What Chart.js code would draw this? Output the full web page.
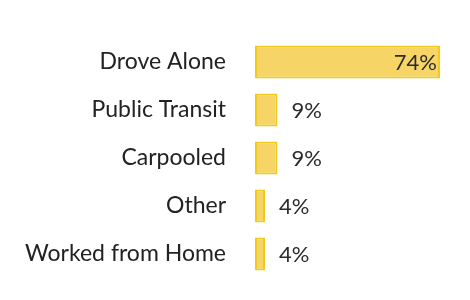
<!DOCTYPE html>
<html lang="en">
<head>
    <meta charset="UTF-8">
    <title>Commute Mode</title>
    <script src="https://cdn.jsdelivr.net/npm/chart.js"></script>
    <style>
        html, body { margin: 0; padding: 0; background: #fff; }
        #wrap { width: 470px; height: 300px; }
    </style>
</head>
<body>
    <div id="wrap"><canvas id="modeChart" width="470" height="300"></canvas></div>
    <script>
        // data
        const modes = ['Drove Alone', 'Public Transit', 'Carpooled', 'Other', 'Worked from Home'];
        const shares = [74, 9, 9, 4, 4];
        const shareLabels = ['74%', '9%', '9%', '4%', '4%'];

        // draws the percent next to / inside each bar
        const valueLabels = {
            id: 'valueLabels',
            afterDatasetsDraw(chart) {
                const ctx = chart.ctx;
                const meta = chart.getDatasetMeta(0);
                ctx.save();
                ctx.font = '22px Lato, "Open Sans", sans-serif';
                ctx.fillStyle = '#2b2b2b';
                ctx.textBaseline = 'middle';
                meta.data.forEach((bar, i) => {
                    const len = bar.x - bar.base;
                    if (len > 60) {
                        ctx.textAlign = 'right';
                        ctx.fillText(shareLabels[i], bar.x - 3, bar.y + 1);
                    } else {
                        ctx.textAlign = 'left';
                        ctx.fillText(shareLabels[i], bar.x + 14, bar.y + 1);
                    }
                });
                ctx.restore();
            }
        };

        new Chart(document.getElementById('modeChart'), {
            type: 'bar',
            data: {
                labels: modes,
                datasets: [{
                    data: shares,
                    backgroundColor: '#f6d566',
                    borderColor: '#efcb1e',
                    borderWidth: 2,
                    borderSkipped: false,
                    barPercentage: 0.69,
                    categoryPercentage: 1
                }]
            },
            options: {
                indexAxis: 'y',
                responsive: false,
                animation: false,
                layout: { padding: { top: 38, bottom: 22, left: 0, right: 10 } },
                plugins: { legend: { display: false }, tooltip: { enabled: false } },
                scales: {
                    x: { display: false, min: 0, max: 82 },
                    y: {
                        grid: { display: false, drawTicks: false },
                        border: { display: false },
                        afterFit(scale) {
                            scale.width = 255;
                            scale.paddingTop = 0;
                            scale.paddingBottom = 0;
                        },
                        ticks: {
                            padding: 29,
                            color: '#222',
                            font: { family: 'Lato, "Open Sans", sans-serif', size: 23 }
                        }
                    }
                }
            },
            plugins: [valueLabels]
        });
    </script>
</body>
</html>
